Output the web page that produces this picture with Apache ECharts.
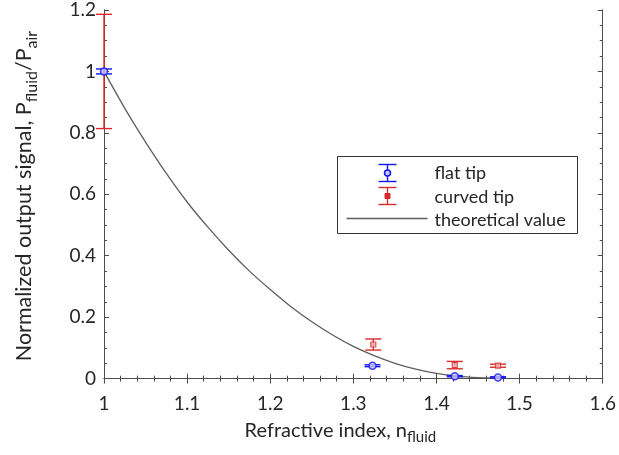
<!DOCTYPE html>
<html>
<head>
<meta charset="utf-8">
<script src="https://cdn.jsdelivr.net/npm/echarts@6/dist/echarts.min.js"></script>
<style>
  html, body { margin: 0; padding: 0; background: #fff; }
  #chart { width: 619px; height: 455px; }
</style>
</head>
<body>
<div id="chart"></div>
<script>
// Measured samples: [refractive index, normalized signal, error half-width]
const flatTip = [
  [1.000, 1.000, 0.008],
  [1.323, 0.042, 0.003],
  [1.422, 0.008, 0.002],
  [1.474, 0.004, 0.002]
];
const curvedTip = [
  [1.000, 1.000, 0.186],
  [1.324, 0.111, 0.018],
  [1.422, 0.044, 0.012],
  [1.474, 0.042, 0.005]
];

// Theoretical curve, sampled
const theoryN = [1.000, 1.025, 1.050, 1.075, 1.100, 1.125, 1.150, 1.175, 1.200, 1.225,
                 1.250, 1.275, 1.300, 1.325, 1.350, 1.375, 1.400, 1.425, 1.450, 1.465, 1.483];
const theoryY = [1.000, 0.880, 0.770, 0.668, 0.575, 0.493, 0.418, 0.350, 0.290, 0.234,
                 0.185, 0.142, 0.105, 0.075, 0.050, 0.031, 0.017, 0.008, 0.003, 0.002, 0.002];

// Axis ticks
const xMin = 1, xMax = 1.6, xStep = 0.1;
const yMin = -0.011, yMax = 1.2;
const yMajorTicks = [0, 0.2, 0.4, 0.6, 0.8, 1.0, 1.2];
const yMinorTicks = [0.05, 0.1, 0.15, 0.25, 0.3, 0.35, 0.45, 0.5, 0.55, 0.65, 0.7, 0.75,
                     0.85, 0.9, 0.95, 1.05, 1.1, 1.15];

const BLUE = '#1414f0';
const RED = '#d82a2a';
const AXIS = '#4d4d4d';
const TEXT = '#262626';
const FONT = 'Lato';

const chart = echarts.init(document.getElementById('chart'), null, { renderer: 'canvas' });

function errorBars(color, halfCap) {
  return function (params, api) {
    const x = api.value(0), y = api.value(1), e = api.value(2);
    const top = api.coord([x, y + e]);
    const bot = api.coord([x, y - e]);
    const style = { stroke: color, lineWidth: 1.4 };
    return {
      type: 'group',
      children: [
        { type: 'line', shape: { x1: top[0], y1: top[1], x2: bot[0], y2: bot[1] }, style },
        { type: 'line', shape: { x1: top[0] - halfCap, y1: top[1], x2: top[0] + halfCap, y2: top[1] }, style },
        { type: 'line', shape: { x1: bot[0] - halfCap, y1: bot[1], x2: bot[0] + halfCap, y2: bot[1] }, style }
      ]
    };
  };
}

const baseX = {
  type: 'value', min: xMin, max: xMax, interval: xStep,
  axisLine: { show: true, lineStyle: { color: AXIS, width: 1 } },
  splitLine: { show: false }
};
const baseY = {
  type: 'value', min: yMin, max: yMax,
  axisLine: { show: true, lineStyle: { color: AXIS, width: 1 } },
  splitLine: { show: false }
};
const xTitleRich = {
  m: { fontFamily: FONT, fontSize: 20, color: TEXT },
  s: { fontFamily: FONT, fontSize: 15, color: TEXT, padding: [14, 0, 0, 0] }
};
const yTitleRich = {
  m: { fontFamily: FONT, fontSize: 21.5, color: TEXT },
  s: { fontFamily: FONT, fontSize: 16, color: TEXT, padding: [15, 0, 0, 0] }
};

const option = {
  animation: false,
  backgroundColor: '#fff',
  grid: { left: 104, right: 14, top: 10, bottom: 73, containLabel: false },
  xAxis: [
    Object.assign({}, baseX, {
      position: 'bottom',
      name: '{m|Refractive index, n}{s|fluid}',
      nameLocation: 'middle', nameGap: 34,
      nameTextStyle: { rich: xTitleRich, padding: [0, 26, 0, 0] },
      axisTick: { show: true, inside: true, length: 5, lineStyle: { color: AXIS } },
      minorTick: { show: true, splitNumber: 5, length: 3, lineStyle: { color: AXIS } },
      axisLabel: {
        show: true, margin: 12, fontFamily: FONT, fontSize: 19, color: TEXT,
        formatter: v => (Math.round(v * 10) / 10).toString()
      }
    }),
    Object.assign({}, baseX, {
      position: 'top',
      axisTick: { show: true, inside: true, length: 5, lineStyle: { color: AXIS } },
      minorTick: { show: true, splitNumber: 5, length: 3, lineStyle: { color: AXIS } },
      axisLabel: { show: false }
    })
  ],
  yAxis: [
    Object.assign({}, baseY, {
      position: 'left',
      name: '{m|Normalized output signal, P}{s|fluid}{m|/P}{s|air}',
      nameLocation: 'middle', nameGap: 64, nameRotate: 90,
      nameTextStyle: { rich: yTitleRich },
      axisTick: { show: true, inside: true, length: 5, customValues: yMajorTicks, lineStyle: { color: AXIS } },
      axisLabel: {
        show: true, margin: 8, fontFamily: FONT, fontSize: 19, color: TEXT,
        customValues: yMajorTicks,
        formatter: v => (Math.round(v * 10) / 10).toString()
      }
    }),
    Object.assign({}, baseY, {
      position: 'left',
      axisTick: { show: true, inside: true, length: 3, customValues: yMinorTicks, lineStyle: { color: AXIS } },
      axisLabel: { show: false }
    }),
    Object.assign({}, baseY, {
      position: 'right',
      axisTick: { show: true, inside: true, length: 5, customValues: yMajorTicks, lineStyle: { color: AXIS } },
      axisLabel: { show: false }
    }),
    Object.assign({}, baseY, {
      position: 'right',
      axisTick: { show: true, inside: true, length: 3, customValues: yMinorTicks, lineStyle: { color: AXIS } },
      axisLabel: { show: false }
    })
  ],
  series: [
    {
      name: 'theoretical value',
      type: 'line', smooth: 0.3,
      xAxisIndex: 0, yAxisIndex: 0,
      data: theoryN.map((n, i) => [n, theoryY[i]]),
      showSymbol: false,
      lineStyle: { color: '#5e5e5e', width: 1.3 },
      z: 2
    },
    {
      name: 'curved tip bars',
      type: 'custom',
      xAxisIndex: 0, yAxisIndex: 0,
      renderItem: errorBars(RED, 8),
      encode: { x: 0, y: 1 },
      data: curvedTip,
      z: 3
    },
    {
      name: 'curved tip',
      type: 'scatter',
      xAxisIndex: 0, yAxisIndex: 0,
      data: curvedTip.map(d => [d[0], d[1]]),
      symbol: 'rect', symbolSize: 5,
      itemStyle: { color: '#f2b8b8', borderColor: RED, borderWidth: 1.2 },
      z: 4
    },
    {
      name: 'flat tip bars',
      type: 'custom',
      xAxisIndex: 0, yAxisIndex: 0,
      renderItem: errorBars(BLUE, 8),
      encode: { x: 0, y: 1 },
      data: flatTip,
      z: 5
    },
    {
      name: 'flat tip',
      type: 'scatter',
      xAxisIndex: 0, yAxisIndex: 0,
      data: flatTip.map(d => [d[0], d[1]]),
      symbol: 'circle', symbolSize: 7,
      itemStyle: { color: '#c9c9ff', borderColor: BLUE, borderWidth: 1.5 },
      z: 6
    }
  ],
  graphic: [
    {
      type: 'group', left: 337, top: 156,
      children: [
        { type: 'rect', shape: { x: 0, y: 0, width: 240, height: 77 },
          style: { fill: '#fff', stroke: '#333', lineWidth: 1 } },
        // flat tip key
        { type: 'line', shape: { x1: 50, y1: 8, x2: 50, y2: 25 }, style: { stroke: BLUE, lineWidth: 1.4 } },
        { type: 'line', shape: { x1: 41, y1: 8, x2: 59, y2: 8 }, style: { stroke: BLUE, lineWidth: 1.4 } },
        { type: 'line', shape: { x1: 41, y1: 25, x2: 59, y2: 25 }, style: { stroke: BLUE, lineWidth: 1.4 } },
        { type: 'circle', shape: { cx: 50, cy: 16.5, r: 3 }, style: { fill: '#c9c9ff', stroke: BLUE, lineWidth: 1.5 } },
        { type: 'text', x: 97, y: 17, style: { text: 'flat tip', fill: TEXT, font: '18px ' + FONT, verticalAlign: 'middle' } },
        // curved tip key
        { type: 'line', shape: { x1: 50, y1: 31, x2: 50, y2: 48 }, style: { stroke: RED, lineWidth: 1.4 } },
        { type: 'line', shape: { x1: 41, y1: 31, x2: 59, y2: 31 }, style: { stroke: RED, lineWidth: 1.4 } },
        { type: 'line', shape: { x1: 41, y1: 48, x2: 59, y2: 48 }, style: { stroke: RED, lineWidth: 1.4 } },
        { type: 'rect', shape: { x: 47.5, y: 37, width: 5, height: 5 }, style: { fill: RED, stroke: RED, lineWidth: 1 } },
        { type: 'text', x: 97, y: 41, style: { text: 'curved tip', fill: TEXT, font: '18px ' + FONT, verticalAlign: 'middle' } },
        // theory key
        { type: 'line', shape: { x1: 9, y1: 62, x2: 90, y2: 62 }, style: { stroke: '#5e5e5e', lineWidth: 1.3 } },
        { type: 'text', x: 97, y: 64, style: { text: 'theoretical value', fill: TEXT, font: '18px ' + FONT, verticalAlign: 'middle' } }
      ]
    }
  ]
};

chart.setOption(option);
</script>
</body>
</html>
